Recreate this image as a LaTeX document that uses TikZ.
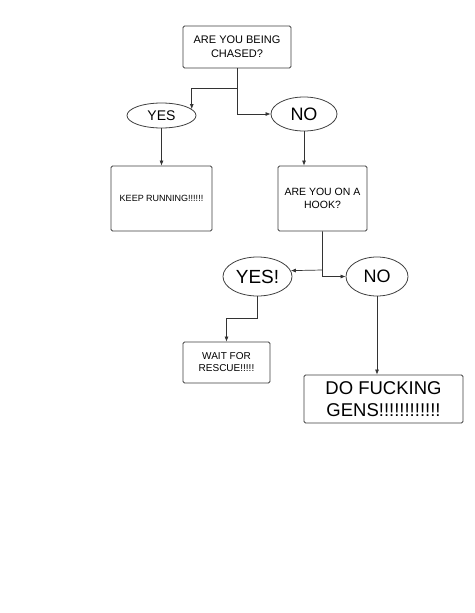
\documentclass[tikz,border=0pt]{standalone}
\usepackage{fontspec}
\setsansfont{Liberation Sans}
\usetikzlibrary{shapes.geometric, arrows.meta}

\begin{document}
\begin{tikzpicture}[
  x=1pt, y=-1pt,
  font=\sffamily,
  box/.style={draw=black!75, line width=0.8pt, rounded corners=1.5pt, align=center, inner sep=0pt},
  answer/.style={draw=black!75, line width=0.8pt, ellipse, inner sep=0pt},
  arr/.style={draw=black!80, line width=0.7pt, -{Latex[length=5pt,width=4pt]}}
]
\path[use as bounding box, fill=white] (0,0) rectangle (474,613);

% questions and answers
\node[box, minimum width=108pt, minimum height=42pt, font=\sffamily\fontsize{11}{14}\selectfont] (chased) at (237,47) {ARE YOU BEING\\CHASED?};
\node[answer, minimum width=69pt, minimum height=25pt, font=\sffamily\fontsize{14}{16}\selectfont] (yes1) at (161.5,115.5) {YES};
\node[answer, minimum width=66pt, minimum height=34pt, font=\sffamily\fontsize{18}{20}\selectfont] (no1) at (304,114) {NO};
\node[box, minimum width=101pt, minimum height=65pt, font=\sffamily\fontsize{9}{11}\selectfont] (keep) at (161.5,198.5) {KEEP RUNNING!!!!!!};
\node[box, minimum width=89pt, minimum height=65pt, font=\sffamily\fontsize{10.5}{13}\selectfont] (hook) at (322.5,198.5) {ARE YOU ON A\\HOOK?};
\node[answer, minimum width=69pt, minimum height=39pt, font=\sffamily\fontsize{19}{21}\selectfont] (yes2) at (257.5,276.5) {YES!};
\node[answer, minimum width=62pt, minimum height=39pt, font=\sffamily\fontsize{18}{20}\selectfont] (no2) at (377,276.5) {NO};
\node[box, minimum width=87pt, minimum height=41pt, font=\sffamily\fontsize{10}{12}\selectfont] (wait) at (226.5,362.5) {WAIT FOR\\RESCUE!!!!!};
\node[box, minimum width=159pt, minimum height=48pt, font=\sffamily\fontsize{18.5}{22}\selectfont] (gens) at (383.5,399) {DO FUCKING\\GENS!!!!!!!!!!!!};

% connectors
\coordinate (split1) at (237,88);
\coordinate (split2) at (322.5,270);
\draw[arr] (chased.south) -- (split1) -| (yes1.12);
\draw[arr] (split1) |- (no1.west);
\draw[arr] (yes1.south) -- (keep.north);
\draw[arr] (no1.south) -- (no1.south |- hook.north);
\draw[arr] (hook.south) -- (split2) -- (yes2.10);
\draw[arr] (split2) |- (no2.west);
\draw[arr] (yes2.south) -- ++(0,22) -| (wait.north);
\draw[arr] (no2.south) -- (no2.south |- gens.north);
\end{tikzpicture}
\end{document}
